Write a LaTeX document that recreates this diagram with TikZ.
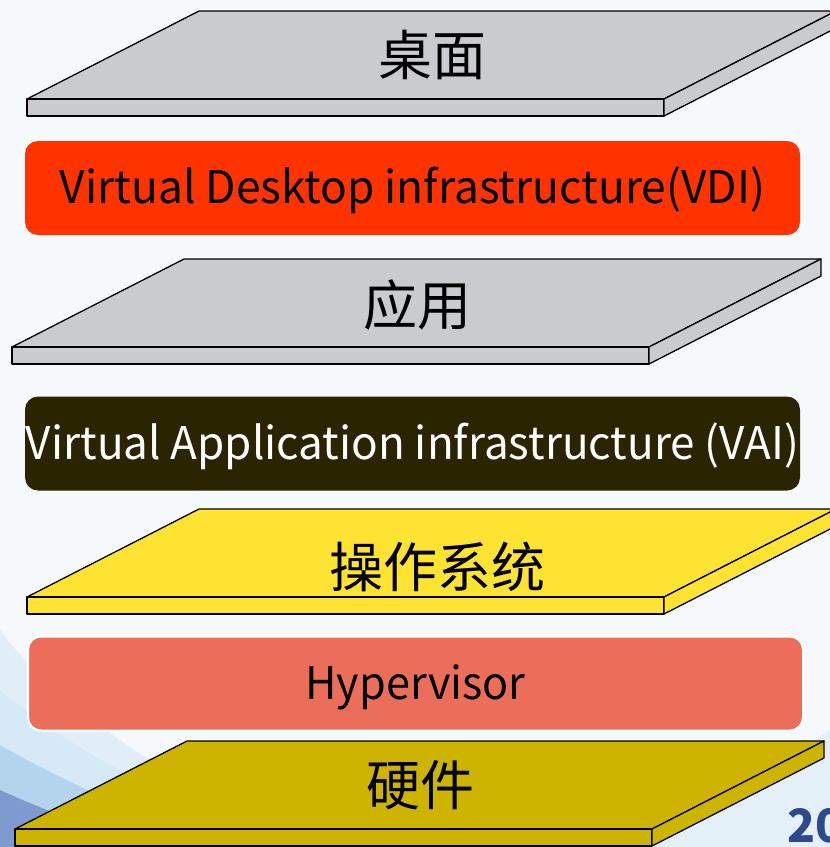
\documentclass[tikz,border=0pt]{standalone}
\usepackage{fontspec}
\setmainfont{Noto Sans CJK SC}
\usepackage{graphicx}
\definecolor{bgc}{HTML}{F6F9FC}
\definecolor{swlight}{HTML}{D3E8F6}
\definecolor{swmid}{HTML}{A9CCEA}
\definecolor{swdark}{HTML}{6E88C6}
\definecolor{slabgray}{HTML}{CACBCF}
\definecolor{slabyellow}{HTML}{FFE333}
\definecolor{slabolive}{HTML}{CDB400}
\definecolor{vdired}{HTML}{FF3300}
\definecolor{vaidark}{HTML}{2B2400}
\definecolor{hypsalmon}{HTML}{EB6E5B}
\definecolor{pgblue}{HTML}{2E4A8C}
\newcommand\drawslab[3]{%
  \filldraw[slab, fill=#3] (#1,#2) -- ++(637,0) -- ++(172,-88) -- ++(-637,0) -- cycle;
  \filldraw[slab, fill=#3] (#1,#2) rectangle ++(637,17);
  \filldraw[slab, fill=#3] ({#1+637},#2) -- ++(172,-88) -- ++(0,17) -- ++(-172,88) -- cycle;
}
\begin{document}
\begin{tikzpicture}[x=1pt,y=-1pt,
  slab/.style={draw=black, line width=1.3pt, line join=round},
  slablabel/.style={font=\fontsize{54}{60}\selectfont, inner sep=0pt},
  layerbox/.style={rounded corners=13pt, minimum width=775pt, minimum height=94pt,
     inner sep=0pt, text height=31pt, text depth=0pt, font=\fontsize{45}{52}\selectfont}]
\useasboundingbox (0,0) rectangle (830,847);
\clip (0,0) rectangle (830,847);
% background
\fill[bgc] (0,0) rectangle (830,847);
\fill[swlight, opacity=0.5] (600,847) .. controls (700,810) and (770,770) .. (830,730) -- (830,847) -- cycle;
\fill[swlight, opacity=0.6] (0,630) .. controls (60,710) and (180,790) .. (320,847) -- (0,847) -- cycle;
\fill[swlight, opacity=0.8] (0,690) .. controls (70,750) and (170,800) .. (280,847) -- (0,847) -- cycle;
\fill[swmid, opacity=0.75] (0,745) .. controls (60,780) and (140,815) .. (230,847) -- (0,847) -- cycle;
\fill[swdark, opacity=0.75] (0,790) .. controls (40,808) and (90,828) .. (150,847) -- (0,847) -- cycle;
% slabs
\drawslab{27}{99}{slabgray}
\drawslab{12}{347}{slabgray}
\drawslab{27}{597}{slabyellow}
\drawslab{15}{829}{slabolive}
\node[slablabel] (desk) at (432,55) {桌面};
\node[slablabel] (app) at (417,305) {应用};
\node[slablabel] (os) at (437,567) {操作系统};
\node[slablabel] (hw) at (420,785) {硬件};
% boxes
\node[layerbox, fill=vdired, text=black] (vdi) at (412.5,188)
  {\resizebox{705pt}{\height}{Virtual Desktop infrastructure(VDI)}};
\node[layerbox, fill=vaidark, text=white] (vai) at (412.5,443.5)
  {\resizebox{773pt}{\height}{Virtual Application infrastructure (VAI)}};
\node[layerbox, fill=hypsalmon, draw=white, line width=2pt, text=black] (hyp) at (415.5,683.5)
  {\resizebox{220pt}{\height}{Hypervisor}};
\node[anchor=base west, inner sep=0pt, text=pgblue, font=\fontsize{46}{52}\selectfont\bfseries] (pg) at (787,842) {20};
\end{tikzpicture}
\end{document}
